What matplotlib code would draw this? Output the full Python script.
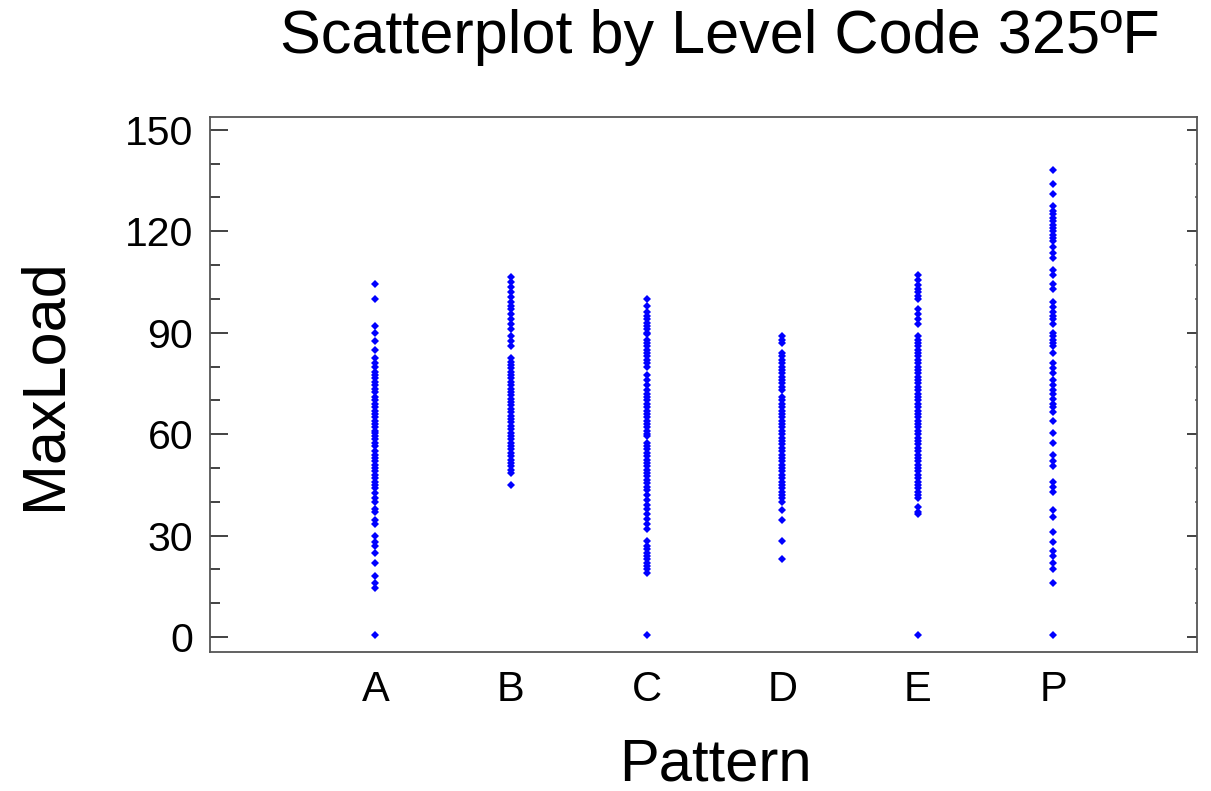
import numpy as np
import matplotlib
matplotlib.use("Agg")
import matplotlib.pyplot as plt
from matplotlib.ticker import MultipleLocator

plt.rcParams['font.family'] = ['Liberation Sans', 'DejaVu Sans']

# pattern categories and MaxLoad readings
patterns = ['A', 'B', 'C', 'D', 'E', 'P']

load_A = [104.5, 100, 92, 90, 87.5, 85, 82.5, 81, 80, 78.5, 77.5, 76.5, 75.5,
          74.5, 73.5, 72.5, 71, 70, 69, 68, 67, 66, 65, 64, 63, 62, 61, 60.5,
          59.5, 58.5, 57.5, 56.5, 55, 54, 53, 52, 51, 50, 49, 48, 47, 46, 45,
          44, 42.5, 41, 40, 38, 37, 34.5, 33.5, 30, 28, 27, 25, 22, 18, 16,
          14.5, 0.5]
load_B = [106.5, 105, 103.5, 102, 100.5, 99, 98, 97, 95.5, 94, 92.5, 91, 89,
          87.5, 86, 82.5, 81.5, 80.5, 79.5, 78.5, 77.5, 76.5, 75.5, 74.5,
          73.5, 72.5, 71.5, 70.5, 69.5, 68.5, 67.5, 66.5, 65.5, 64.5, 63.5,
          62.5, 61.5, 60.5, 59.5, 58.5, 57.5, 56.5, 55.5, 54.5, 53.5, 52.5,
          51.5, 50.5, 49.5, 48.5, 45]
load_C = [100, 98, 96, 95, 94, 93, 92, 91, 90, 89.5, 88, 87, 86, 85, 84, 83,
          82, 81, 80, 77.5, 76, 74.5, 73, 72, 71, 70, 69, 68, 67, 66, 65, 64,
          63, 62, 61, 60, 59.5, 57.5, 56.5, 55.5, 54.5, 53.5, 52.5, 51.5, 50.5,
          49.5, 48.5, 47.5, 46.5, 45.5, 44.5, 43.5, 42, 40.5, 39, 38, 36.5, 35,
          33.5, 32, 28.5, 27, 26, 25, 24, 23, 22, 21, 20, 19, 0.5]
load_D = [89, 88, 87, 84, 83, 82, 81, 80, 79, 78, 77, 76, 75, 74, 73, 71, 70,
          69, 68, 67, 66, 65, 64, 63, 62, 61, 60, 59, 58, 57, 56, 55, 54, 53,
          52, 51, 50, 49, 48, 47, 46, 45, 44, 43, 42, 41, 40, 37.5, 34.5, 28.5,
          23]
load_E = [107, 105.5, 104, 103, 102, 101, 100, 97, 95.5, 94, 92.5, 89, 88, 87,
          86, 85, 84, 83, 82, 81, 80, 79, 78, 77, 76, 75, 74, 73, 72, 71, 70,
          69, 68, 67, 66, 65, 64, 63, 62, 61, 60, 59, 58, 57, 56, 55, 54, 53,
          52, 51, 50, 49, 48, 47, 46, 45, 44, 43, 42, 41, 38.5, 37, 36.5, 0.5]
load_P = [138, 134, 131, 127.5, 126, 125, 124, 123, 122, 121, 120, 119, 118,
          117, 115.5, 113.5, 112, 108.5, 107, 104.5, 103, 99, 97.5, 96, 95, 94,
          92.5, 90, 89, 88, 87, 86, 84, 81, 79.5, 78, 76, 74.5, 73, 72, 70.5,
          69, 68, 66.5, 64, 60.5, 57.5, 54, 52, 50.5, 46, 44.5, 43, 37.5, 35.5,
          31, 28, 25.5, 24, 22, 20, 16, 0.5]

all_loads = [load_A, load_B, load_C, load_D, load_E, load_P]

fig = plt.figure(figsize=(12.11, 7.91), dpi=100)
ax = fig.add_axes([210/1211, 1 - 652/791, 987/1211, 535/791])

for i, vals in enumerate(all_loads):
    xs = np.full(len(vals), i + 1)
    ax.plot(xs, vals, linestyle='none', marker='D', markersize=4.2,
            color='#0000ff', markeredgewidth=0)

ax.set_xlim(-0.22, 7.06)
ax.set_ylim(-4.4, 153.8)
ax.set_xticks(range(1, len(patterns) + 1))
ax.set_xticklabels(patterns)
ax.yaxis.set_major_locator(MultipleLocator(30))
ax.yaxis.set_minor_locator(MultipleLocator(10))

ax.tick_params(axis='x', length=0, labelsize=30, pad=13)
ax.tick_params(axis='y', which='major', direction='in', length=13,
               width=1.2, color='#222222', labelsize=29.5, pad=12)
ax.tick_params(axis='y', which='minor', direction='in', length=7.5,
               width=1.2, color='#222222')

# right side ticks, shorter
sec = ax.secondary_yaxis('right')
sec.yaxis.set_major_locator(MultipleLocator(30))
sec.yaxis.set_minor_locator(MultipleLocator(10))
sec.tick_params(which='major', direction='in', length=7, width=1.2,
                color='#222222', labelright=False)
sec.tick_params(which='minor', direction='in', length=1.5, width=1.1,
                color='#555555')
sec.spines['right'].set_visible(False)

for s in ax.spines.values():
    s.set_color('#555555')
    s.set_linewidth(1.3)

ax.set_ylabel('MaxLoad', fontsize=44)
ax.yaxis.set_label_coords(-0.167, 0.5)
ax.set_xlabel('Pattern', fontsize=43)
ax.xaxis.set_label_coords(0.512, -0.211)
for lbl in (ax.yaxis.label, ax.xaxis.label):
    lbl.set_va('center')

fig.text(720/1211, 1 - 38/791, 'Scatterplot by Level Code 325ºF',
         fontsize=44, ha='center', va='center')

fig.savefig('out.png', dpi=100, facecolor='white')
